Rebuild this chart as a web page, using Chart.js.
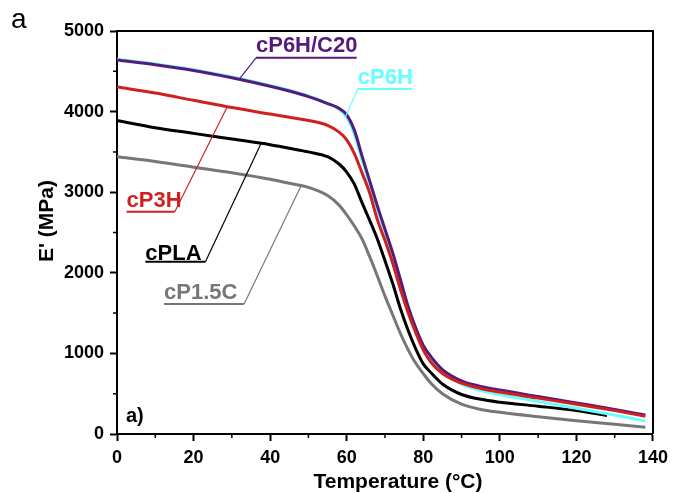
<!DOCTYPE html>
<html>
<head>
<meta charset="utf-8">
<script src="https://cdn.jsdelivr.net/npm/chart.js@4/dist/chart.umd.min.js"></script>
<style>
  html, body { margin: 0; padding: 0; background: #fff; }
  #wrap { width: 674px; height: 493px; position: relative; }
</style>
</head>
<body>
<div id="wrap"><canvas id="dma-chart"></canvas></div>
<script>
// temperature grid (°C)
const temps = [0, 10, 20, 30, 40, 45, 50, 55, 58, 60, 62, 64, 66, 68, 70, 72, 74, 76, 78, 80, 82, 85, 90, 95, 100, 110, 120, 130, 138];

// storage modulus E' (MPa)
const cP3H     = [4305, 4230, 4140, 4050, 3970, 3930, 3890, 3830, 3745, 3650, 3480, 3240, 2990, 2660, 2400, 2120, 1800, 1510, 1260, 1040, 890, 750, 630, 565, 520, 445, 370, 290, 220];
const cP6H_C20 = [4640, 4580, 4510, 4420, 4315, 4255, 4185, 4100, 4040, 3960, 3770, 3450, 3140, 2830, 2540, 2250, 1920, 1590, 1320, 1100, 960, 800, 660, 590, 545, 465, 385, 305, 235];
const cP6H     = [4650, 4590, 4520, 4430, 4325, 4265, 4195, 4105, 4030, 3930, 3720, 3400, 3090, 2790, 2500, 2200, 1880, 1550, 1270, 1060, 920, 770, 620, 540, 490, 405, 320, 235, 160];
const cPLA     = [3890, 3800, 3730, 3660, 3590, 3545, 3500, 3440, 3350, 3250, 3100, 2870, 2650, 2420, 2150, 1870, 1560, 1290, 1060, 870, 760, 620, 490, 430, 395, 345, 290, null, null];
const cPLA_end = [128, 230];
const cP1_5C   = [3440, 3380, 3310, 3240, 3160, 3110, 3060, 2960, 2840, 2720, 2580, 2420, 2200, 1960, 1710, 1480, 1250, 1050, 880, 750, 630, 500, 370, 305, 270, 215, 165, 120, 85];

const xTicks = [0, 20, 40, 60, 80, 100, 120, 140];
const yTicks = [0, 1000, 2000, 3000, 4000, 5000];

const PURPLE = '#561a7a';
const CYAN = '#66ffff';
const RED = '#d11f1f';
const GRAY = '#777777';
const FONT = '"Liberation Sans", Arial, sans-serif';

Chart.defaults.font.family = FONT;

function toPoints(ys) {
  const pts = [];
  ys.forEach((y, i) => { if (y !== null) pts.push({ x: temps[i], y: y }); });
  return pts;
}

const pla = toPoints(cPLA);
pla.push({ x: cPLA_end[0], y: cPLA_end[1] });

// labels with leader lines, placed in data space
const curveLabels = [
  { text: 'cP6H/C20', color: PURPLE, x0: 36.3, x1: 62.6, y: 4668, base: 4743, tipX: 31.9, tipY: 4400, fromLeft: true },
  { text: 'cP6H', color: CYAN, x0: 62.9, x1: 77.0, y: 4280, base: 4339, tipX: 59.7, tipY: 3937, fromLeft: true },
  { text: 'cP3H', color: RED, x0: 2.5, x1: 15.1, y: 2758, base: 2820, tipX: 28.9, tipY: 4070, fromLeft: false },
  { text: 'cPLA', color: '#000', x0: 7.4, x1: 23.1, y: 2138, base: 2159, tipX: 37.6, tipY: 3600, fromLeft: false },
  { text: 'cP1.5C', color: GRAY, x0: 12.3, x1: 33.2, y: 1613, base: 1671, tipX: 48.0, tipY: 3070, fromLeft: false }
];

const decorPlugin = {
  id: 'decor',
  afterDraw(chart) {
    const ctx = chart.ctx;
    const xs = chart.scales.x;
    const ys = chart.scales.y;
    const area = chart.chartArea;

    ctx.save();
    // frame top + right
    ctx.strokeStyle = '#000';
    ctx.lineWidth = 2;
    ctx.beginPath();
    ctx.moveTo(area.left, area.top);
    ctx.lineTo(area.right, area.top);
    ctx.lineTo(area.right, area.bottom);
    ctx.stroke();

    // minor ticks
    ctx.lineWidth = 1.5;
    ctx.beginPath();
    for (let t = 10; t < 140; t += 20) {
      const px = xs.getPixelForValue(t);
      ctx.moveTo(px, area.bottom);
      ctx.lineTo(px, area.bottom + 4);
    }
    for (let v = 500; v < 5000; v += 1000) {
      const py = ys.getPixelForValue(v);
      ctx.moveTo(area.left, py);
      ctx.lineTo(area.left - 4, py);
    }
    ctx.stroke();

    // curve labels
    ctx.font = 'bold 22px ' + FONT;
    ctx.textBaseline = 'alphabetic';
    ctx.textAlign = 'left';
    curveLabels.forEach(l => {
      const ux0 = xs.getPixelForValue(l.x0);
      const ux1 = xs.getPixelForValue(l.x1);
      const uy = ys.getPixelForValue(l.y);
      ctx.fillStyle = l.color;
      ctx.fillText(l.text, ux0, ys.getPixelForValue(l.base));
      ctx.strokeStyle = l.color;
      ctx.lineWidth = 2;
      ctx.beginPath();
      ctx.moveTo(ux0, uy);
      ctx.lineTo(ux1, uy);
      ctx.stroke();
      ctx.lineWidth = 1.2;
      ctx.beginPath();
      ctx.moveTo(l.fromLeft ? ux0 : ux1, uy);
      ctx.lineTo(xs.getPixelForValue(l.tipX), ys.getPixelForValue(l.tipY));
      ctx.stroke();
    });

    // panel tags
    ctx.fillStyle = '#000';
    ctx.font = 'bold 20px ' + FONT;
    ctx.fillText('a)', area.left + 9, area.bottom - 12);
    ctx.font = '28px ' + FONT;
    ctx.fillText('a', 11, 28);

    // axis titles
    ctx.font = 'bold 21px ' + FONT;
    ctx.textAlign = 'center';
    ctx.fillText('Temperature (°C)', 398, 488);
    ctx.translate(53, 221);
    ctx.rotate(-Math.PI / 2);
    ctx.fillText("E' (MPa)", 0, 0);
    ctx.restore();
  }
};

const lineDs = (label, data, color) => ({
  label: label,
  data: data,
  borderColor: color,
  backgroundColor: color,
  borderWidth: 3,
  pointRadius: 0,
  fill: false,
  cubicInterpolationMode: 'monotone'
});

new Chart(document.getElementById('dma-chart'), {
  type: 'line',
  data: {
    datasets: [
      lineDs('cP3H', toPoints(cP3H), RED),
      lineDs('cP6H/C20', toPoints(cP6H_C20), PURPLE),
      lineDs('cP6H', toPoints(cP6H), CYAN),
      lineDs('cPLA', pla, '#000'),
      lineDs('cP1.5C', toPoints(cP1_5C), GRAY)
    ]
  },
  options: {
    responsive: true,
    maintainAspectRatio: false,
    animation: false,
    layout: { padding: { top: 31, right: 18, bottom: 0, left: 0 } },
    plugins: { legend: { display: false }, tooltip: { enabled: false } },
    scales: {
      x: {
        type: 'linear',
        min: 0,
        max: 140,
        afterFit(scale) { scale.height = 59; },
        afterBuildTicks(scale) { scale.ticks = xTicks.map(v => ({ value: v })); },
        border: { color: '#000', width: 2 },
        grid: { drawOnChartArea: false, tickLength: 7, tickColor: '#000', tickWidth: 2 },
        ticks: {
          color: '#000',
          padding: 6,
          callback: v => String(v),
          font: { family: FONT, size: 18, weight: 700 }
        }
      },
      y: {
        type: 'linear',
        min: 0,
        max: 5000,
        afterFit(scale) { scale.width = 117; },
        afterBuildTicks(scale) { scale.ticks = yTicks.map(v => ({ value: v })); },
        border: { color: '#000', width: 2 },
        grid: { drawOnChartArea: false, tickLength: 7, tickColor: '#000', tickWidth: 2 },
        ticks: {
          color: '#000',
          padding: 6,
          callback: v => String(v),
          font: { family: FONT, size: 18, weight: 700 }
        }
      }
    }
  },
  plugins: [decorPlugin]
});
</script>
</body>
</html>
